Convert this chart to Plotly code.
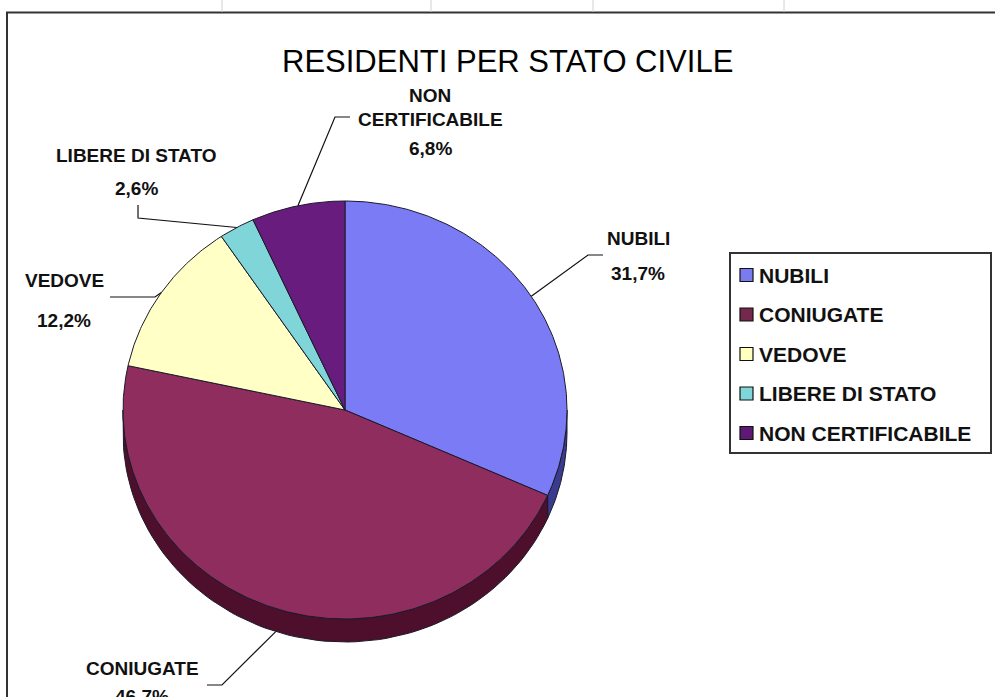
import numpy as np
import plotly.graph_objects as go

# ---------------- data ----------------
categories = ["NUBILI", "CONIUGATE", "VEDOVE", "LIBERE DI STATO", "NON CERTIFICABILE"]
percentages = [31.7, 46.7, 12.2, 2.6, 6.8]
title_text = "RESIDENTI PER STATO CIVILE"

# ---------------- style ----------------
top_colors = ["#7b7bf6", "#8e2d5e", "#ffffc6", "#80d5d8", "#681c7e"]
side_colors = ["#3a3a8e", "#4d0f2c", "#8a8a60", "#3f7a7a", "#350a45"]
legend_colors = ["#7b7bf0", "#74284c", "#ffffc0", "#80d5d8", "#5e1a72"]
EDGE = "#1a1a2a"
FONT = "Liberation Sans, Arial, sans-serif"

W, H = 995, 697
CX, CY, RX, RY, DEPTH = 345, 410, 222, 209, 23

# label layout (text centre x, line y's, leader path after the anchor)
label_style = {
    "NUBILI": dict(x=638, lines=[238], pct_y=273, path=[(588, 255), (603, 255)]),
    "CONIUGATE": dict(x=142, lines=[668], pct_y=696, path=[(222, 685), (207, 685)]),
    "VEDOVE": dict(x=64, lines=[280], pct_y=320, path=[(155, 297), (110, 297)]),
    "LIBERE DI STATO": dict(x=136, lines=[155], pct_y=188, path=[(138, 218), (138, 205)]),
    "NON CERTIFICABILE": dict(x=430, lines=[95, 119], pct_y=148, path=[(335, 117), (350, 117)]),
}
LEG_BOX = (730, 253, 991, 453)
LEG_X, LEG_Y0, LEG_STEP = 746.5, 275, 39.5


def pt(theta_deg, dy=0.0):
    t = np.radians(theta_deg)
    return CX + RX * np.sin(t), CY - RY * np.cos(t) + dy


total = float(sum(percentages))
cum = np.concatenate([[0.0], np.cumsum(percentages)]) / total * 360.0
starts, ends = cum[:-1], cum[1:]

fig = go.Figure()

# side walls (visible front half)
for i, cat in enumerate(categories):
    a, b = max(starts[i], 90.0), min(ends[i], 270.0)
    if a < b:
        ts = np.linspace(a, b, 80)
        xt, yt = pt(ts)
        xs = np.concatenate([xt, xt[::-1], [xt[0]]])
        ys = np.concatenate([yt, (yt + DEPTH)[::-1], [yt[0]]])
        fig.add_trace(go.Scatter(x=xs, y=ys, mode="lines", fill="toself",
                                 fillcolor=side_colors[i],
                                 line=dict(color=EDGE, width=1),
                                 hoverinfo="skip", showlegend=False))

# top faces
for i, cat in enumerate(categories):
    n = max(int((ends[i] - starts[i]) * 2), 8)
    ts = np.linspace(starts[i], ends[i], n)
    xt, yt = pt(ts)
    xs = np.concatenate([[CX], xt, [CX]])
    ys = np.concatenate([[CY], yt, [CY]])
    fig.add_trace(go.Scatter(x=xs, y=ys, mode="lines", fill="toself",
                             fillcolor=top_colors[i],
                             line=dict(color=EDGE, width=1),
                             name=cat, hoverinfo="name+text",
                             text=f"{percentages[i]:.1f}%".replace(".", ","),
                             showlegend=False))

# leader lines and labels
annotations = []
for i, cat in enumerate(categories):
    st = label_style[cat]
    mid = (starts[i] + ends[i]) / 2.0
    dy = DEPTH if np.cos(np.radians(mid)) < 0 else 0.0
    ax, ay = pt(mid, dy)
    px = [ax] + [p[0] for p in st["path"]]
    py = [ay] + [p[1] for p in st["path"]]
    fig.add_trace(go.Scatter(x=px, y=py, mode="lines",
                             line=dict(color="#111111", width=1.2),
                             hoverinfo="skip", showlegend=False))
    name_lines = ["NON", "CERTIFICABILE"] if len(st["lines"]) == 2 else [cat]
    for txt, ly in zip(name_lines, st["lines"]):
        annotations.append(dict(x=st["x"], y=ly, xref="x", yref="y", text=txt,
                                showarrow=False, xanchor="center", yanchor="middle",
                                font=dict(family=FONT, size=19, color="#111111",
                                          weight="bold")))
    annotations.append(dict(x=st["x"], y=st["pct_y"], xref="x", yref="y",
                            text=f"{percentages[i]:.1f}%".replace(".", ","),
                            showarrow=False, xanchor="center", yanchor="middle",
                            font=dict(family=FONT, size=19, color="#111111",
                                      weight="bold")))

# manual legend
leg_y = [LEG_Y0 + LEG_STEP * k for k in range(len(categories))]
fig.add_trace(go.Scatter(x=[LEG_X] * len(categories), y=leg_y, mode="markers",
                         marker=dict(symbol="square", size=13, color=legend_colors,
                                     line=dict(color="#111111", width=1.2)),
                         hoverinfo="skip", showlegend=False))
for k, cat in enumerate(categories):
    annotations.append(dict(x=LEG_X + 10, y=leg_y[k], xref="x", yref="y", text=cat,
                            showarrow=False, xanchor="left", yanchor="middle",
                            font=dict(family=FONT, size=21, color="#111111",
                                      weight="bold")))

# title
annotations.append(dict(x=507, y=61, xref="x", yref="y", text=title_text,
                        showarrow=False, xanchor="center", yanchor="middle",
                        font=dict(family=FONT, size=31, color="#000000")))

shapes = [
    dict(type="rect", xref="x", yref="y", x0=7, y0=12.5, x1=1005, y1=710,
         line=dict(color="#333333", width=2)),
    dict(type="rect", xref="x", yref="y", x0=LEG_BOX[0], y0=LEG_BOX[1],
         x1=LEG_BOX[2], y1=LEG_BOX[3], line=dict(color="#333333", width=2)),
]
for tx in [222, 431, 593, 784]:
    shapes.append(dict(type="line", xref="x", yref="y", x0=tx, x1=tx, y0=0, y1=12,
                       line=dict(color="#d0d0d0", width=1)))

fig.update_layout(
    width=W, height=H,
    margin=dict(l=0, r=0, t=0, b=0),
    paper_bgcolor="white", plot_bgcolor="white",
    xaxis=dict(range=[0, W], visible=False, fixedrange=True),
    yaxis=dict(range=[H, 0], visible=False, fixedrange=True),
    annotations=annotations, shapes=shapes,
    showlegend=False,
)

fig.write_html("out.html")
